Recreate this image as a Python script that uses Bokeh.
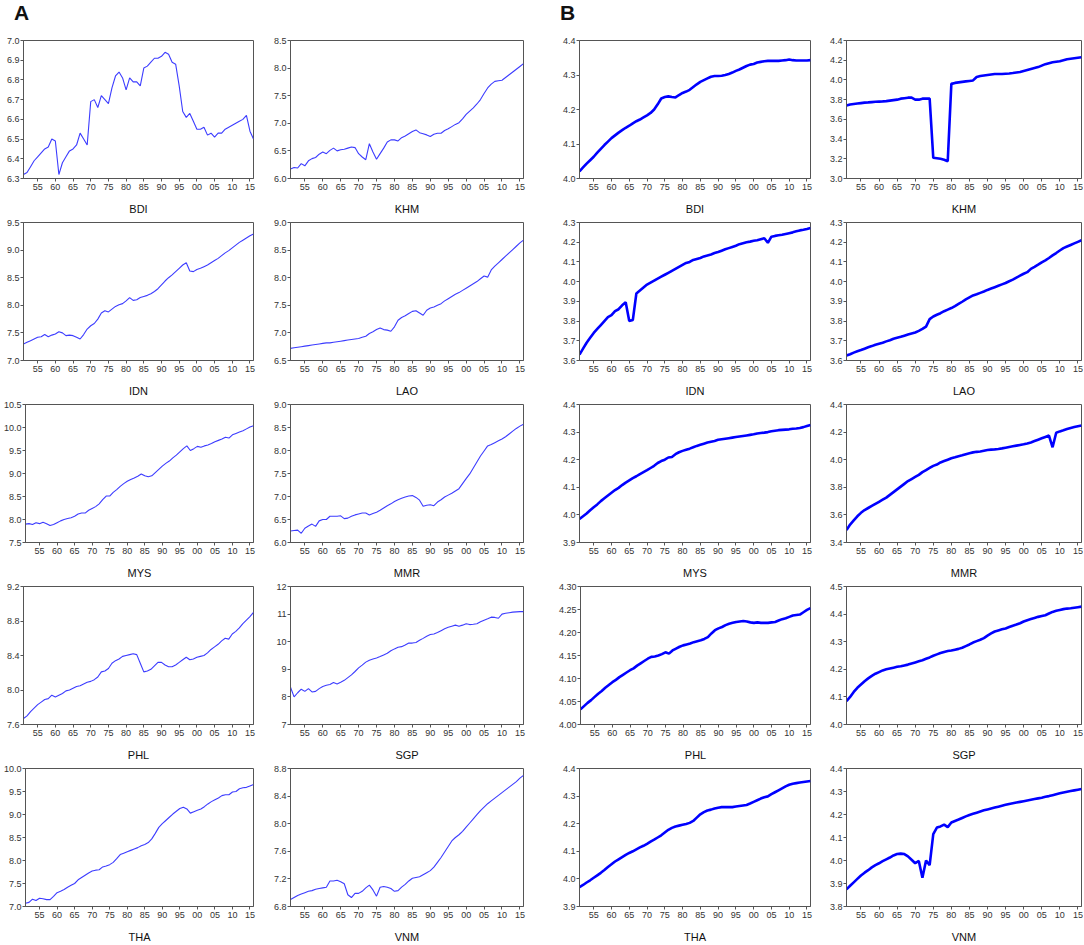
from bokeh.plotting import figure
from bokeh.models import Range1d, FixedTicker, PrintfTickFormatter, CustomJSTickFormatter, Div, Spacer
from bokeh.layouts import row, column
from bokeh.embed import file_html
from bokeh.resources import INLINE

# ---------------- data ----------------
years = list(range(1951, 2017))
x_ticks = [1955, 1960, 1965, 1970, 1975, 1980, 1985, 1990, 1995, 2000, 2005, 2010, 2015]

# Panel A series
A_BDI = [6.32, 6.33, 6.36, 6.39, 6.41, 6.43, 6.45, 6.46, 6.50, 6.49,
         6.32, 6.38, 6.41, 6.44, 6.45, 6.47, 6.53, 6.50, 6.47, 6.69,
         6.70, 6.66, 6.72, 6.70, 6.68, 6.76, 6.82, 6.84, 6.81, 6.75,
         6.81, 6.79, 6.79, 6.77, 6.86, 6.87, 6.89, 6.91, 6.91, 6.92,
         6.94, 6.93, 6.89, 6.88, 6.77, 6.64, 6.61, 6.63, 6.59, 6.55,
         6.55, 6.56, 6.52, 6.53, 6.51, 6.53, 6.53, 6.55, 6.56, 6.57,
         6.58, 6.59, 6.60, 6.62, 6.54, 6.50]
A_KHM = [6.17, 6.20, 6.19, 6.27, 6.23, 6.32, 6.36, 6.38, 6.44, 6.48,
         6.45, 6.51, 6.55, 6.50, 6.52, 6.53, 6.55, 6.57, 6.56, 6.45,
         6.39, 6.34, 6.63, 6.48, 6.35, 6.45, 6.55, 6.66, 6.70, 6.70,
         6.68, 6.74, 6.77, 6.81, 6.85, 6.88, 6.83, 6.81, 6.79, 6.76,
         6.80, 6.82, 6.82, 6.87, 6.90, 6.94, 6.98, 7.01, 7.08, 7.16,
         7.22, 7.28, 7.35, 7.43, 7.54, 7.64, 7.71, 7.76, 7.77, 7.78,
         7.83, 7.88, 7.93, 7.98, 8.03, 8.08]
A_IDN = [7.30, 7.33, 7.36, 7.39, 7.42, 7.43, 7.47, 7.43, 7.46, 7.48,
         7.52, 7.50, 7.45, 7.46, 7.45, 7.42, 7.39, 7.47, 7.57, 7.63,
         7.67, 7.75, 7.86, 7.90, 7.88, 7.93, 7.98, 8.01, 8.03, 8.08,
         8.14, 8.09, 8.10, 8.14, 8.16, 8.18, 8.21, 8.25, 8.30, 8.37,
         8.44, 8.50, 8.55, 8.61, 8.67, 8.73, 8.77, 8.62, 8.61, 8.65,
         8.67, 8.70, 8.73, 8.77, 8.81, 8.85, 8.90, 8.95, 8.99, 9.04,
         9.09, 9.14, 9.18, 9.22, 9.26, 9.29]
A_LAO = [6.72, 6.73, 6.74, 6.75, 6.76, 6.77, 6.78, 6.79, 6.80, 6.81,
         6.82, 6.82, 6.83, 6.84, 6.85, 6.86, 6.87, 6.88, 6.89, 6.90,
         6.92, 6.94, 6.99, 7.02, 7.06, 7.09, 7.06, 7.05, 7.03, 7.11,
         7.23, 7.28, 7.31, 7.35, 7.39, 7.40, 7.36, 7.32, 7.41, 7.45,
         7.47, 7.50, 7.53, 7.58, 7.62, 7.66, 7.70, 7.73, 7.77, 7.81,
         7.85, 7.89, 7.93, 7.98, 8.03, 8.01, 8.14, 8.21, 8.27, 8.33,
         8.39, 8.45, 8.51, 8.57, 8.63, 8.68]
A_MYS = [7.90, 7.91, 7.89, 7.93, 7.91, 7.94, 7.91, 7.87, 7.89, 7.93,
         7.97, 8.00, 8.02, 8.04, 8.07, 8.12, 8.14, 8.14, 8.20, 8.24,
         8.28, 8.34, 8.43, 8.51, 8.51, 8.59, 8.65, 8.72, 8.78, 8.83,
         8.87, 8.90, 8.94, 8.99, 8.95, 8.93, 8.95, 9.02, 9.09, 9.16,
         9.22, 9.27, 9.34, 9.40, 9.47, 9.54, 9.60, 9.50, 9.54, 9.59,
         9.57, 9.60, 9.62, 9.65, 9.69, 9.72, 9.75, 9.79, 9.77, 9.84,
         9.87, 9.90, 9.93, 9.97, 10.01, 10.04]
A_MMR = [6.25, 6.26, 6.27, 6.20, 6.31, 6.36, 6.40, 6.35, 6.47, 6.50,
         6.50, 6.57, 6.57, 6.57, 6.58, 6.52, 6.53, 6.57, 6.60, 6.62,
         6.64, 6.64, 6.60, 6.63, 6.66, 6.70, 6.75, 6.80, 6.84, 6.89,
         6.93, 6.96, 6.99, 7.01, 7.02, 6.98, 6.92, 6.79, 6.81, 6.82,
         6.80, 6.88, 6.93, 6.99, 7.03, 7.07, 7.12, 7.17, 7.28, 7.39,
         7.49, 7.62, 7.75, 7.88, 7.99, 8.10, 8.13, 8.17, 8.21, 8.25,
         8.30, 8.36, 8.42, 8.48, 8.53, 8.57]
A_PHL = [7.67, 7.70, 7.75, 7.79, 7.83, 7.86, 7.89, 7.90, 7.94, 7.92,
         7.94, 7.96, 7.99, 8.00, 8.02, 8.04, 8.05, 8.07, 8.09, 8.10,
         8.12, 8.15, 8.21, 8.22, 8.25, 8.31, 8.34, 8.36, 8.39, 8.40,
         8.41, 8.42, 8.41, 8.31, 8.21, 8.22, 8.24, 8.28, 8.32, 8.32,
         8.29, 8.27, 8.27, 8.29, 8.32, 8.35, 8.38, 8.35, 8.36, 8.38,
         8.39, 8.40, 8.43, 8.47, 8.50, 8.53, 8.57, 8.60, 8.59, 8.65,
         8.68, 8.72, 8.77, 8.81, 8.85, 8.90]
A_SGP = [8.35, 8.00, 8.15, 8.28, 8.20, 8.30, 8.18, 8.20, 8.30, 8.38,
         8.42, 8.45, 8.52, 8.47, 8.53, 8.60, 8.70, 8.80, 8.92, 9.05,
         9.15, 9.26, 9.33, 9.37, 9.41, 9.46, 9.52, 9.58, 9.67, 9.74,
         9.80, 9.82, 9.88, 9.95, 9.95, 9.97, 10.05, 10.12, 10.20, 10.26,
         10.28, 10.33, 10.40, 10.47, 10.52, 10.56, 10.60, 10.56, 10.60, 10.65,
         10.62, 10.63, 10.65, 10.72, 10.78, 10.83, 10.89, 10.88, 10.85, 11.00,
         11.03, 11.05, 11.07, 11.08, 11.09, 11.09]
A_THA = [7.07, 7.09, 7.16, 7.13, 7.18, 7.17, 7.15, 7.15, 7.22, 7.30,
         7.33, 7.37, 7.42, 7.46, 7.50, 7.58, 7.63, 7.68, 7.73, 7.77,
         7.79, 7.80, 7.86, 7.88, 7.91, 7.96, 8.04, 8.13, 8.16, 8.19,
         8.22, 8.25, 8.28, 8.32, 8.35, 8.39, 8.47, 8.59, 8.72, 8.80,
         8.87, 8.94, 9.01, 9.07, 9.13, 9.16, 9.12, 9.03, 9.06, 9.09,
         9.12, 9.17, 9.23, 9.28, 9.32, 9.36, 9.41, 9.43, 9.43, 9.49,
         9.50, 9.56, 9.58, 9.59, 9.62, 9.65]
A_VNM = [6.90, 6.93, 6.96, 6.98, 7.00, 7.02, 7.03, 7.05, 7.06, 7.07,
         7.08, 7.17, 7.17, 7.18, 7.16, 7.13, 6.97, 6.93, 6.99, 6.99,
         7.02, 7.07, 7.11, 7.04, 6.95, 7.08, 7.09, 7.08, 7.06, 7.02,
         7.03, 7.08, 7.12, 7.17, 7.21, 7.22, 7.23, 7.26, 7.29, 7.32,
         7.37, 7.44, 7.51, 7.59, 7.67, 7.75, 7.80, 7.84, 7.89, 7.95,
         8.01, 8.07, 8.13, 8.19, 8.24, 8.29, 8.33, 8.37, 8.41, 8.45,
         8.49, 8.53, 8.57, 8.61, 8.66, 8.70]

# Panel B series
B_BDI = [4.021, 4.032, 4.043, 4.053, 4.063, 4.075, 4.086, 4.097, 4.107, 4.117,
         4.125, 4.133, 4.140, 4.147, 4.153, 4.160, 4.166, 4.171, 4.177, 4.183,
         4.190, 4.200, 4.215, 4.232, 4.236, 4.238, 4.236, 4.235, 4.242, 4.248,
         4.252, 4.257, 4.265, 4.273, 4.280, 4.285, 4.290, 4.295, 4.297, 4.297,
         4.298, 4.300, 4.303, 4.307, 4.312, 4.316, 4.321, 4.326, 4.330, 4.332,
         4.336, 4.338, 4.340, 4.341, 4.341, 4.341, 4.341, 4.342, 4.343, 4.345,
         4.343, 4.342, 4.342, 4.342, 4.342, 4.343]
B_KHM = [3.74, 3.75, 3.755, 3.76, 3.765, 3.77, 3.772, 3.775, 3.778, 3.78,
         3.782, 3.785, 3.79, 3.795, 3.80, 3.81, 3.815, 3.82, 3.82, 3.80,
         3.80, 3.81, 3.81, 3.81, 3.21, 3.205, 3.20, 3.19, 3.175, 3.96,
         3.97, 3.975, 3.98, 3.985, 3.99, 3.995, 4.03, 4.04, 4.045, 4.05,
         4.055, 4.06, 4.06, 4.06, 4.063, 4.066, 4.07, 4.075, 4.08, 4.09,
         4.10, 4.11, 4.12, 4.13, 4.145, 4.16, 4.17, 4.18, 4.185, 4.19,
         4.20, 4.21, 4.215, 4.22, 4.225, 4.23]
B_IDN = [3.63, 3.66, 3.69, 3.715, 3.74, 3.76, 3.78, 3.80, 3.82, 3.83,
         3.85, 3.86, 3.88, 3.895, 3.80, 3.805, 3.94, 3.955, 3.97, 3.985,
         3.995, 4.005, 4.015, 4.025, 4.035, 4.045, 4.055, 4.065, 4.075, 4.085,
         4.095, 4.10, 4.11, 4.115, 4.12, 4.128, 4.133, 4.138, 4.145, 4.15,
         4.157, 4.164, 4.17, 4.176, 4.182, 4.19, 4.195, 4.20, 4.203, 4.207,
         4.21, 4.215, 4.22, 4.197, 4.228, 4.232, 4.235, 4.238, 4.242, 4.246,
         4.25, 4.255, 4.26, 4.263, 4.267, 4.272]
B_LAO = [3.625, 3.632, 3.64, 3.647, 3.653, 3.66, 3.667, 3.673, 3.68, 3.685,
         3.69, 3.697, 3.703, 3.71, 3.715, 3.72, 3.726, 3.732, 3.737, 3.742,
         3.75, 3.76, 3.772, 3.81, 3.823, 3.832, 3.84, 3.85, 3.858, 3.866,
         3.876, 3.887, 3.898, 3.91, 3.92, 3.93, 3.936, 3.943, 3.95, 3.958,
         3.965, 3.972, 3.979, 3.986, 3.993, 4.002, 4.01, 4.02, 4.03, 4.04,
         4.048, 4.065, 4.075, 4.086, 4.098, 4.108, 4.12, 4.133, 4.145, 4.158,
         4.17, 4.178, 4.186, 4.194, 4.202, 4.21]
B_MYS = [3.985, 3.995, 4.005, 4.017, 4.028, 4.038, 4.05, 4.06, 4.07, 4.08,
         4.09, 4.098, 4.108, 4.117, 4.125, 4.133, 4.14, 4.148, 4.155, 4.162,
         4.17, 4.178, 4.188, 4.195, 4.20, 4.208, 4.21, 4.22, 4.227, 4.232,
         4.236, 4.24, 4.245, 4.25, 4.254, 4.258, 4.262, 4.265, 4.268, 4.272,
         4.274, 4.276, 4.278, 4.28, 4.282, 4.284, 4.286, 4.288, 4.29, 4.292,
         4.295, 4.297, 4.298, 4.30, 4.303, 4.305, 4.307, 4.308, 4.309, 4.31,
         4.312, 4.313, 4.315, 4.318, 4.322, 4.326]
B_MMR = [3.49, 3.53, 3.56, 3.59, 3.615, 3.635, 3.65, 3.665, 3.68, 3.695,
         3.71, 3.725, 3.745, 3.765, 3.785, 3.805, 3.825, 3.845, 3.86, 3.875,
         3.89, 3.91, 3.925, 3.94, 3.955, 3.965, 3.98, 3.99, 4.00, 4.01,
         4.017, 4.025, 4.032, 4.04, 4.047, 4.053, 4.057, 4.06, 4.065, 4.07,
         4.073, 4.075, 4.078, 4.082, 4.087, 4.092, 4.097, 4.102, 4.107, 4.112,
         4.118, 4.125, 4.135, 4.145, 4.155, 4.165, 4.175, 4.09, 4.195, 4.205,
         4.213, 4.222, 4.23, 4.237, 4.243, 4.248]
B_PHL = [4.033, 4.04, 4.047, 4.053, 4.06, 4.067, 4.073, 4.08, 4.086, 4.092,
         4.097, 4.103, 4.108, 4.113, 4.118, 4.122, 4.128, 4.133, 4.138, 4.143,
         4.147, 4.148, 4.15, 4.153, 4.157, 4.154, 4.161, 4.165, 4.169, 4.172,
         4.174, 4.176, 4.179, 4.181, 4.183, 4.186, 4.19, 4.198, 4.205, 4.209,
         4.212, 4.216, 4.219, 4.221, 4.223, 4.224, 4.225, 4.224, 4.222, 4.221,
         4.222, 4.221, 4.221, 4.221, 4.222, 4.223, 4.226, 4.229, 4.231, 4.234,
         4.237, 4.238, 4.239, 4.244, 4.249, 4.253]
B_SGP = [4.085, 4.10, 4.118, 4.133, 4.145, 4.157, 4.167, 4.176, 4.184, 4.19,
         4.196, 4.20, 4.203, 4.206, 4.209, 4.211, 4.214, 4.217, 4.221, 4.225,
         4.229, 4.233, 4.238, 4.243, 4.249, 4.254, 4.259, 4.263, 4.266, 4.268,
         4.271, 4.274, 4.278, 4.284, 4.29, 4.297, 4.302, 4.307, 4.313, 4.322,
         4.33, 4.337, 4.341, 4.345, 4.348, 4.353, 4.358, 4.362, 4.367, 4.373,
         4.378, 4.382, 4.386, 4.39, 4.393, 4.396, 4.402, 4.408, 4.412, 4.415,
         4.418, 4.42, 4.421, 4.423, 4.425, 4.427]
B_THA = [3.97, 3.978, 3.987, 3.995, 4.004, 4.013, 4.022, 4.032, 4.043, 4.053,
         4.063, 4.071, 4.079, 4.087, 4.094, 4.10, 4.107, 4.114, 4.12, 4.127,
         4.135, 4.142, 4.15, 4.158, 4.168, 4.178, 4.185, 4.19, 4.193, 4.196,
         4.199, 4.203, 4.21, 4.222, 4.234, 4.242, 4.248, 4.251, 4.255, 4.258,
         4.26, 4.26, 4.26, 4.26, 4.262, 4.264, 4.266, 4.268, 4.273, 4.279,
         4.285, 4.291, 4.296, 4.299, 4.307, 4.314, 4.321, 4.328, 4.335, 4.341,
         4.345, 4.347, 4.349, 4.351, 4.353, 4.355]
B_VNM = [3.875, 3.89, 3.905, 3.92, 3.935, 3.947, 3.958, 3.97, 3.98, 3.988,
         3.997, 4.005, 4.013, 4.022, 4.028, 4.03, 4.028, 4.018, 4.003, 3.988,
         3.998, 3.925, 4.00, 3.98, 4.115, 4.143, 4.148, 4.156, 4.145, 4.165,
         4.172, 4.178, 4.185, 4.192, 4.198, 4.203, 4.208, 4.213, 4.218, 4.222,
         4.226, 4.23, 4.234, 4.238, 4.242, 4.246, 4.249, 4.252, 4.255, 4.258,
         4.261, 4.264, 4.267, 4.27, 4.273, 4.277, 4.28, 4.284, 4.288, 4.292,
         4.296, 4.299, 4.302, 4.305, 4.308, 4.311]

# y tick values per panel
yt_A_BDI = [6.3, 6.4, 6.5, 6.6, 6.7, 6.8, 6.9, 7.0]
yt_A_KHM = [6.0, 6.5, 7.0, 7.5, 8.0, 8.5]
yt_A_IDN = [7.0, 7.5, 8.0, 8.5, 9.0, 9.5]
yt_A_LAO = [6.5, 7.0, 7.5, 8.0, 8.5, 9.0]
yt_A_MYS = [7.5, 8.0, 8.5, 9.0, 9.5, 10.0, 10.5]
yt_A_MMR = [6.0, 6.5, 7.0, 7.5, 8.0, 8.5, 9.0]
yt_A_PHL = [7.6, 8.0, 8.4, 8.8, 9.2]
yt_A_SGP = [7, 8, 9, 10, 11, 12]
yt_A_THA = [7.0, 7.5, 8.0, 8.5, 9.0, 9.5, 10.0]
yt_A_VNM = [6.8, 7.2, 7.6, 8.0, 8.4, 8.8]
yt_B_BDI = [4.0, 4.1, 4.2, 4.3, 4.4]
yt_B_KHM = [3.0, 3.2, 3.4, 3.6, 3.8, 4.0, 4.2, 4.4]
yt_B_IDN = [3.6, 3.7, 3.8, 3.9, 4.0, 4.1, 4.2, 4.3]
yt_B_LAO = [3.6, 3.7, 3.8, 3.9, 4.0, 4.1, 4.2, 4.3]
yt_B_MYS = [3.9, 4.0, 4.1, 4.2, 4.3, 4.4]
yt_B_MMR = [3.4, 3.6, 3.8, 4.0, 4.2, 4.4]
yt_B_PHL = [4.00, 4.05, 4.10, 4.15, 4.20, 4.25, 4.30]
yt_B_SGP = [4.0, 4.1, 4.2, 4.3, 4.4, 4.5]
yt_B_THA = [3.9, 4.0, 4.1, 4.2, 4.3, 4.4]
yt_B_VNM = [3.8, 3.9, 4.0, 4.1, 4.2, 4.3, 4.4]

FONT = "Liberation Sans"
FRAME_H = 138
TOP = 5
BOTTOM = 39
HEADER_H = 35
COL_W = [270, 260, 265, 263]
COL_BL = [23, 20, 24, 26]
COL_BR = [17, 7, 10, 2]
GAP = 25

year_fmt = CustomJSTickFormatter(code="const t = Math.round(tick) % 100; return (t < 10 ? '0' : '') + t;")


def panel(name, ys, yticks, fmt, col, thick):
    p = figure(width=COL_W[col], height=TOP + FRAME_H + BOTTOM,
               x_range=Range1d(years[0], years[-1]),
               y_range=Range1d(yticks[0], yticks[-1]),
               output_backend="svg", toolbar_location=None,
               min_border_left=COL_BL[col], min_border_right=COL_BR[col],
               min_border_top=TOP, min_border_bottom=BOTTOM)
    p.xaxis.ticker = FixedTicker(ticks=x_ticks)
    p.xaxis.formatter = year_fmt
    p.yaxis.ticker = FixedTicker(ticks=yticks)
    p.yaxis.formatter = PrintfTickFormatter(format=fmt)
    p.xaxis.axis_label = name
    p.xaxis.axis_label_text_font = FONT
    p.xaxis.axis_label_text_font_size = "11px"
    p.xaxis.axis_label_text_font_style = "normal"
    p.xaxis.axis_label_text_color = "#111111"
    p.xaxis.axis_label_standoff = 10
    for ax in (p.xaxis[0], p.yaxis[0]):
        ax.major_label_text_font = FONT
        ax.major_label_text_font_size = "9px"
        ax.major_label_text_color = "#333333"
        ax.major_label_standoff = 2
        ax.major_tick_in = 0
        ax.major_tick_out = 3
        ax.major_tick_line_color = "#555555"
        ax.minor_tick_line_color = None
        ax.axis_line_color = "#555555"
    p.yaxis.major_label_standoff = 1
    p.grid.visible = False
    p.outline_line_color = "#555555"
    p.outline_line_width = 1
    p.background_fill_color = "white"
    p.border_fill_color = "white"
    if thick:
        p.line(years, ys, line_color="#0000ff", line_width=2.6)
    else:
        p.line(years, ys, line_color="#3c3cff", line_width=1.1)
    return p


rows_spec = [
    (("BDI", A_BDI, yt_A_BDI, "%.1f"), ("KHM", A_KHM, yt_A_KHM, "%.1f"),
     ("BDI", B_BDI, yt_B_BDI, "%.1f"), ("KHM", B_KHM, yt_B_KHM, "%.1f")),
    (("IDN", A_IDN, yt_A_IDN, "%.1f"), ("LAO", A_LAO, yt_A_LAO, "%.1f"),
     ("IDN", B_IDN, yt_B_IDN, "%.1f"), ("LAO", B_LAO, yt_B_LAO, "%.1f")),
    (("MYS", A_MYS, yt_A_MYS, "%.1f"), ("MMR", A_MMR, yt_A_MMR, "%.1f"),
     ("MYS", B_MYS, yt_B_MYS, "%.1f"), ("MMR", B_MMR, yt_B_MMR, "%.1f")),
    (("PHL", A_PHL, yt_A_PHL, "%.1f"), ("SGP", A_SGP, yt_A_SGP, "%d"),
     ("PHL", B_PHL, yt_B_PHL, "%.2f"), ("SGP", B_SGP, yt_B_SGP, "%.1f")),
    (("THA", A_THA, yt_A_THA, "%.1f"), ("VNM", A_VNM, yt_A_VNM, "%.1f"),
     ("THA", B_THA, yt_B_THA, "%.1f"), ("VNM", B_VNM, yt_B_VNM, "%.1f")),
]

header_style = ("font-family:'Liberation Sans',Arial,sans-serif;font-size:21px;font-weight:bold;"
                "line-height:22px;color:#111;padding-top:2px;")
wA = COL_W[0] + COL_W[1] + GAP
wB = COL_W[2] + COL_W[3]
header = row(
    Div(text=f'<div style="{header_style}padding-left:14px;">A</div>', width=wA, height=HEADER_H, margin=(0, 0, 0, 0)),
    Div(text=f'<div style="{header_style}padding-left:5px;">B</div>', width=wB, height=HEADER_H, margin=(0, 0, 0, 0)),
)

grid_rows = [header]
for spec in rows_spec:
    figs = []
    for col, (name, ys, yt, fmt) in enumerate(spec):
        figs.append(panel(name, ys, yt, fmt, col, thick=(col >= 2)))
    grid_rows.append(row(figs[0], figs[1], Spacer(width=GAP, height=TOP + FRAME_H + BOTTOM), figs[2], figs[3]))

layout = column(*grid_rows)

open("out.html", "w").write(file_html(layout, INLINE))
